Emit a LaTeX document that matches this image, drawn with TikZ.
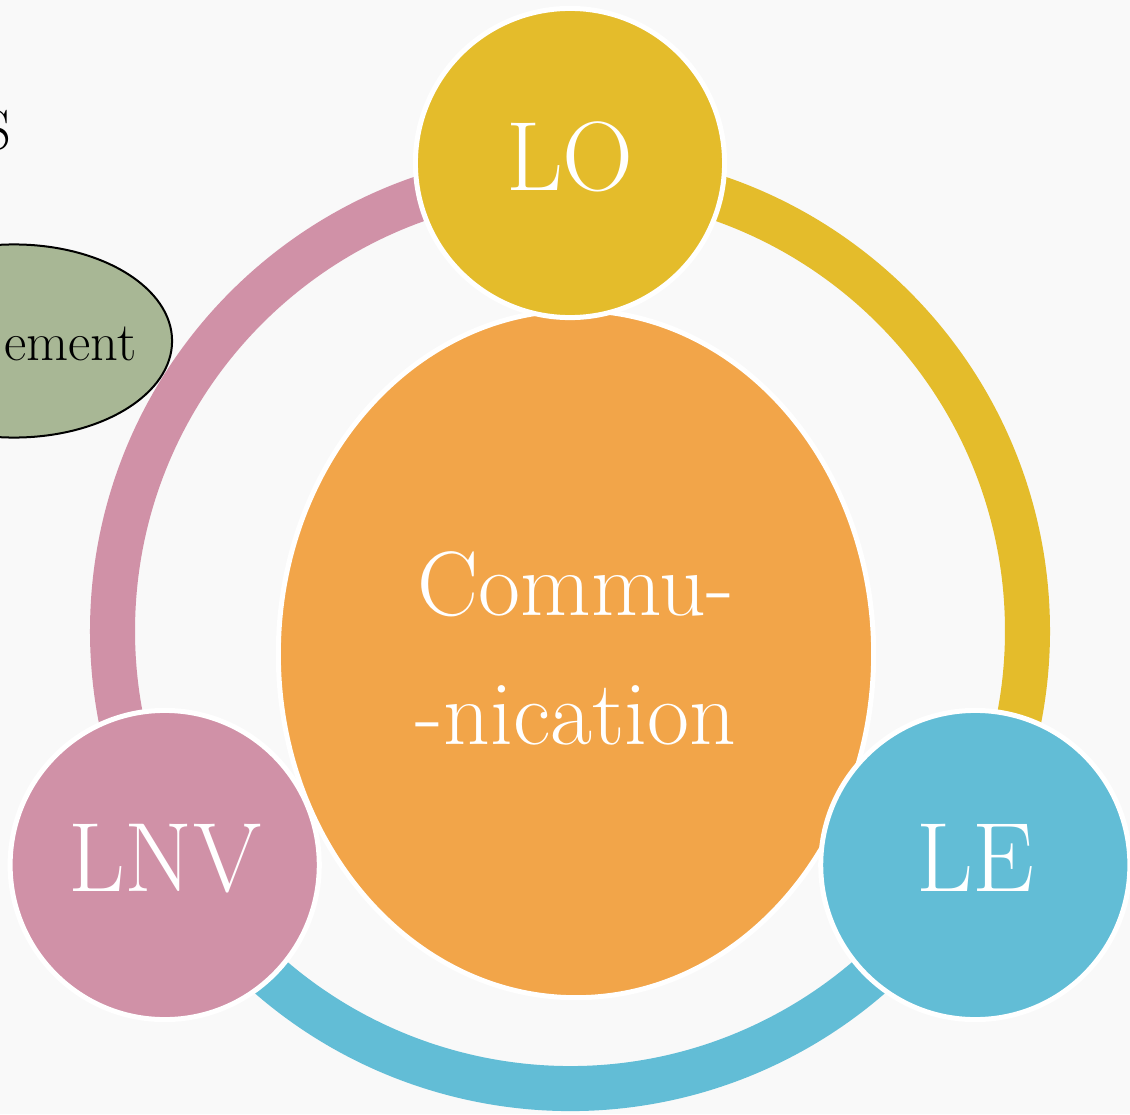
\documentclass[tikz,border=0pt]{standalone}
\usepackage{tikz}
\usetikzlibrary{shapes,positioning}
\usepackage{xcolor}

\definecolor{loyellow}{RGB}{228,188,43}
\definecolor{lnvpink}{RGB}{208,145,167}
\definecolor{leblue}{RGB}{98,189,214}
\definecolor{comorange}{RGB}{242,165,73}
\definecolor{sagegreen}{RGB}{168,183,149}
\definecolor{paper}{RGB}{249,249,249}

\begin{document}
\begin{tikzpicture}[x=0.01cm, y=0.01cm,
    ringarc/.style={line width=0.45cm},
    edgetext/.style={anchor=base east, inner sep=0pt},
    bubble/.style={circle, draw=white, line width=0.05cm, minimum size=3.09cm,
                   inner sep=0pt, text=white, text depth=0.14cm,
                   font=\fontsize{28}{33}\selectfont}]
\clip (0,0) rectangle (1130,1114);
\fill[paper] (0,0) rectangle (1130,1114);

% items cut off at the left edge
\node[ellipse, draw=black, line width=0.02cm, fill=sagegreen,
      minimum width=3.16cm, minimum height=1.93cm] (mgmt) at (14,773) {};
\node[edgetext, font=\fontsize{15.5}{19}\selectfont] (mgmttext) at (137,754) {ement};
\node[edgetext, font=\fontsize{16}{20}\selectfont] (toptext) at (12,964) {S};

% ring around the centre
\coordinate (c) at (570,483);
\coordinate (ringtop) at ([shift={(90:457.5)}]c);
\coordinate (ringleft) at ([shift={(210:457.5)}]c);
\coordinate (ringright) at ([shift={(330:457.5)}]c);
\draw[ringarc, lnvpink] (ringtop) arc[start angle=90, end angle=210, radius=457.5];
\draw[ringarc, loyellow] (ringtop) arc[start angle=90, end angle=-30, radius=457.5];
\draw[ringarc, leblue] (ringleft) arc[start angle=210, end angle=330, radius=457.5];

% centre
\node[ellipse, fill=comorange, draw=white, line width=0.05cm,
      minimum width=5.95cm, minimum height=6.87cm, inner sep=0pt,
      text=white, align=center, text depth=0.11cm,
      font=\fontsize{26}{36.7}\selectfont] (comm) at (576,460) {Commu-\\-nication};

% the three bubbles
\node[bubble, fill=loyellow] (lo) at ([shift={(90:468)}]c) {LO};
\node[bubble, fill=lnvpink] (lnv) at ([shift={(210:468)}]c) {LNV};
\node[bubble, fill=leblue] (le) at ([shift={(330:468)}]c) {LE};

\end{tikzpicture}
\end{document}
